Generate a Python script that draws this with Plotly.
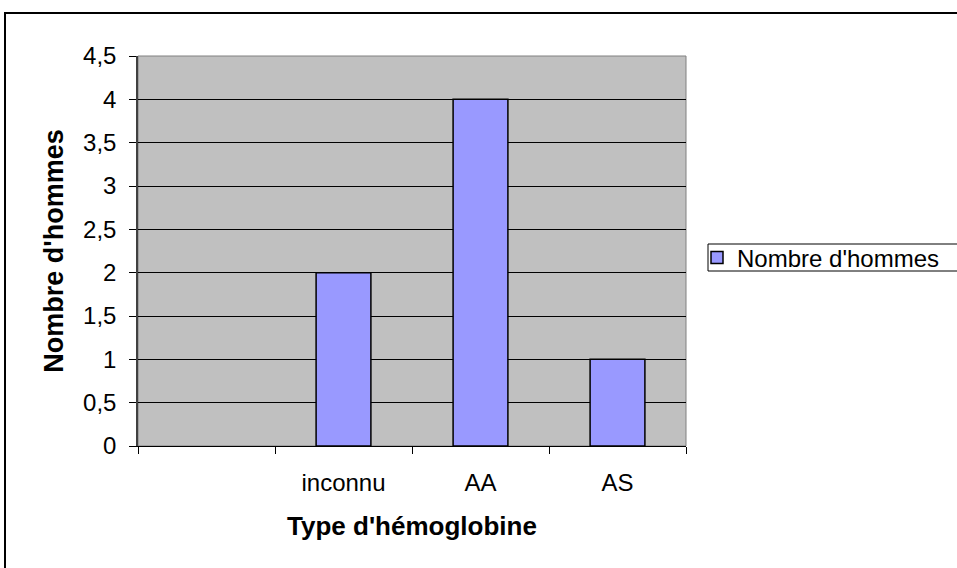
import plotly.graph_objects as go

categories = [" ", "inconnu", "AA", "AS"]
values = [None, 2, 4, 1]
series_name = "Nombre d'hommes"
y_ticks = [0, 0.5, 1, 1.5, 2, 2.5, 3, 3.5, 4, 4.5]

W, H = 957, 568
L, R, T, B = 138, W - 686, 56, H - 446
pw, ph = W - L - R, H - T - B


def px(x):
    return (x - L) / pw


def py(y):
    return 1 - (y - T) / ph


fig = go.Figure()
fig.add_trace(go.Bar(
    x=categories, y=values, name=series_name,
    marker=dict(color="#9999FF", line=dict(color="black", width=1.5)),
    showlegend=True,
))

font = "Liberation Sans, Arial, sans-serif"
fig.update_layout(
    width=W, height=H,
    margin=dict(l=L, r=R, t=T, b=B, pad=0),
    paper_bgcolor="white", plot_bgcolor="#C0C0C0",
    separators=", ",
    bargap=0.6,
    font=dict(family=font, size=24, color="black"),
    showlegend=True,
    legend=dict(
        x=px(697), xanchor="left",
        y=py(258), yanchor="middle",
        bgcolor="rgba(0,0,0,0)", borderwidth=0,
        font=dict(size=24), itemwidth=30,
    ),
    xaxis=dict(
        type="category", tickson="boundaries", ticks="outside", ticklen=7,
        tickcolor="black", showline=True, linecolor="black", linewidth=1,
        showgrid=False, tickfont=dict(size=24), ticklabelstandoff=15,
        title=dict(text="<b>Type d'hémoglobine</b>", font=dict(size=26), standoff=22),
    ),
    yaxis=dict(
        range=[0, 4.5], tickvals=y_ticks, ticks="outside", ticklen=7,
        tickcolor="black", showline=True, linecolor="#404040", linewidth=1.5,
        showgrid=True, gridcolor="black", gridwidth=1, zeroline=False,
        tickfont=dict(size=24), ticklabelstandoff=8,
        title=dict(text="<b>Nombre d'hommes</b>", font=dict(size=27), standoff=12),
    ),
    shapes=[
        dict(type="rect", xref="x domain", yref="y domain", x0=0, x1=1, y0=0, y1=1,
             line=dict(color="#808080", width=1), layer="below"),
        dict(type="rect", xref="paper", yref="paper",
             x0=px(708), x1=px(975), y0=py(271), y1=py(244),
             line=dict(color="black", width=1), fillcolor="white", layer="below"),
        dict(type="rect", xref="paper", yref="paper",
             x0=px(5), x1=px(W + 20),
             y0=py(H + 20), y1=py(13),
             line=dict(color="black", width=2), fillcolor="rgba(0,0,0,0)", layer="above"),
    ],
)

fig.write_html("out.html", config={"displayModeBar": False},
               post_script="document.body.style.margin='0';")
